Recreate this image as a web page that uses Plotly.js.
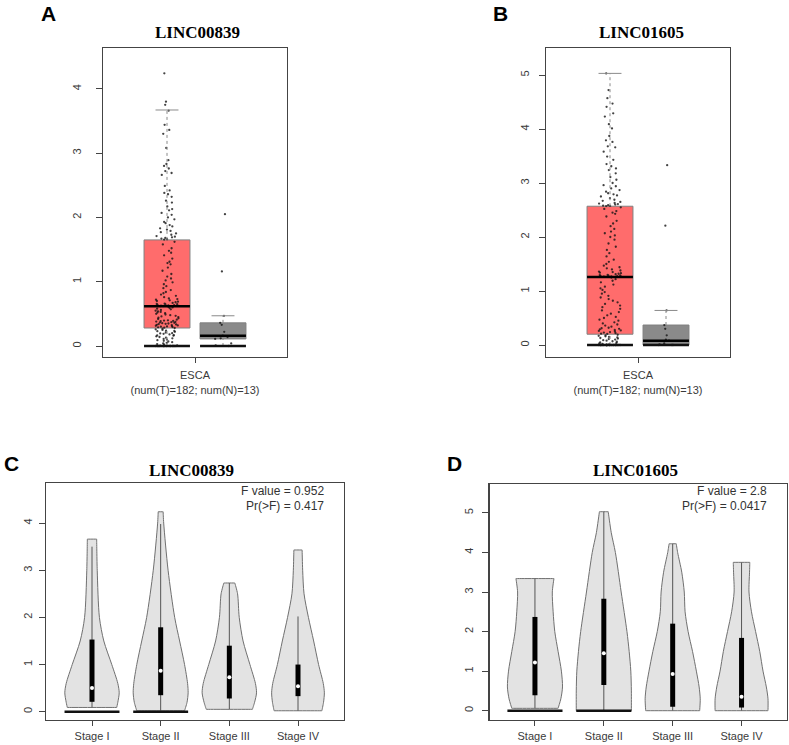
<!DOCTYPE html>
<html><head><meta charset="utf-8">
<script src="https://cdn.plot.ly/plotly-3.0.1.min.js"></script>
<style>html,body{margin:0;padding:0;background:#fff}#chart{width:789px;height:745px}</style>
</head><body><div id="chart"></div>
<script>
// ================= DATA =================
const geneA = 'LINC00839';
const geneB = 'LINC01605';
const cancerTick = 'ESCA<br>(num(T)=182; num(N)=13)';
const groupPos = [1, 2]; // tumor, normal

// Panel A (LINC00839) box statistics [tumor, normal]
const aQ1 = [0.28, 0.11];
const aMedian = [0.62, 0.16];
const aQ3 = [1.65, 0.36];
const aLowerFence = [0, 0];
const aUpperFence = [3.67, 0.47];
const aTumorPoints = [4.24,3.80,3.75,3.66,3.44,3.36,3.30,3.08,2.89,2.83,2.80,2.76,2.72,2.69,2.66,2.49,2.42,2.38,2.36,2.32,
  2.26,2.23,2.17,2.13,2.11,2.07,2.04,2.00,1.97,1.93,1.91,1.88,1.86,1.83,1.81,1.79,1.77,1.75,1.73,1.71,1.70,1.69,1.68,1.67,1.66,1.655,
  1.62,1.58,1.52,1.48,1.45,1.41,1.36,1.31,1.29,1.27,1.22,1.17,1.12,1.08,1.05,1.02,0.99,0.96,0.93,0.90,0.87,0.84,0.82,0.80,
  0.78,0.76,0.74,0.73,0.72,0.71,0.70,0.69,0.68,0.67,0.66,0.655,0.65,0.645,0.64,0.635,0.63,0.628,0.625,0.622,0.62,
  0.61,0.60,0.59,0.58,0.57,0.56,0.55,0.54,0.53,0.52,0.51,0.50,0.49,0.48,0.47,0.46,0.45,0.44,0.43,0.42,0.41,0.40,
  0.395,0.39,0.385,0.38,0.375,0.37,0.365,0.36,0.355,0.35,0.345,0.34,0.335,0.33,0.325,0.32,0.315,0.31,0.305,0.30,0.295,0.29,0.285,
  0.28,0.27,0.26,0.25,0.24,0.235,0.23,0.22,0.21,0.20,0.195,0.19,0.18,0.17,0.165,0.16,0.15,0.14,0.13,0.12,0.11,0.10,0.09,0.08,0.07,
  0.06,0.05,0.04,0.03,0.02,0.01,0.005,0,0,0,0,0,0,0,0,0,0,0,0,0,0];
const aNormalPoints = [2.05,1.16,0.47,0.36,0.33,0.22,0.16,0.14,0.12,0.11,0.04,0.01,0];

// Panel B (LINC01605) box statistics [tumor, normal]
const bQ1 = [0.20, 0.0];
const bMedian = [1.26, 0.08];
const bQ3 = [2.57, 0.37];
const bLowerFence = [0, 0];
const bUpperFence = [5.03, 0.64];
const bTumorPoints = [5.03,4.72,4.57,4.47,4.41,4.29,4.23,4.09,4.01,3.87,3.79,3.76,3.68,3.66,3.58,3.49,3.43,3.35,3.31,3.27,
  3.24,3.18,3.11,3.06,3.00,2.96,2.94,2.90,2.87,2.84,2.81,2.79,2.77,2.75,2.72,2.69,2.67,2.65,2.63,2.62,2.61,2.60,2.59,2.58,2.575,2.572,
  2.55,2.52,2.48,2.45,2.43,2.38,2.30,2.25,2.20,2.15,2.10,2.07,2.03,2.00,1.95,1.88,1.82,1.76,1.70,1.64,1.58,1.54,1.50,1.47,
  1.44,1.42,1.40,1.38,1.36,1.35,1.34,1.33,1.32,1.31,1.30,1.295,1.29,1.285,1.28,1.275,1.27,1.268,1.265,1.262,1.26,
  1.25,1.22,1.19,1.16,1.12,1.08,1.05,1.02,0.98,0.95,0.91,0.88,0.85,0.82,0.79,0.76,0.73,0.70,0.67,0.64,0.61,0.58,0.55,0.52,0.50,
  0.47,0.45,0.42,0.40,0.38,0.36,0.34,0.32,0.31,0.30,0.29,0.28,0.27,0.26,0.25,0.24,0.23,0.22,0.21,0.205,
  0.19,0.18,0.17,0.16,0.15,0.14,0.13,0.12,0.11,0.10,0.09,0.08,0.07,0.06,0.05,0.04,0.03,0.02,0.01,0.005,
  0,0,0,0,0,0,0,0,0,0,0,0,0,0,0,0,0,0,0,0,0,0,0,0,0,0];
const bNormalPoints = [3.33,2.21,0.64,0.37,0.30,0.18,0.10,0.08,0.03,0.01,0,0,0];

// Panels C / D: pathological stage violins
const stageNames = ['Stage I', 'Stage II', 'Stage III', 'Stage IV'];
const cViolinY = [
  [0.09,0.2,0.4,0.6,1.0,1.5,2.0,3.0,3.66],
  [0.02,0.2,0.4,0.6,1.0,1.5,2.0,3.0,4.0,4.24],
  [0.05,0.2,0.4,0.6,1.0,1.5,2.0,2.5,2.73],
  [0.02,0.2,0.4,0.6,1.0,1.5,2.0,2.5,3.0,3.43]];
const cViolinDensity = [
  [0.90,0.94,0.99,0.94,0.72,0.43,0.27,0.19,0.17],
  [0.87,0.96,1.00,0.98,0.87,0.69,0.51,0.27,0.11,0.09],
  [0.84,0.92,0.99,0.95,0.75,0.50,0.36,0.30,0.20],
  [0.87,0.93,0.96,0.92,0.75,0.57,0.38,0.22,0.17,0.15]];
const cQ1 = [0.21, 0.35, 0.28, 0.33];
const cMedian = [0.50, 0.87, 0.73, 0.54];
const cQ3 = [1.53, 1.79, 1.40, 1.00];
const cWhiskerLow = [0.09, 0.02, 0.05, 0.02];
const cWhiskerHigh = [3.50, 3.98, 2.73, 2.02];
const cZeroBar = [0, 0, null, null];
const cStatText = ['F value = 0.952', 'Pr(>F) = 0.417'];

const dViolinY = [
  [0.06,0.3,0.6,1.0,1.5,2.0,2.5,3.0,3.34],
  [0.0,0.5,1.0,1.5,2.0,3.0,4.0,4.5,5.03],
  [0.0,0.3,0.6,1.0,1.5,2.0,2.5,3.0,3.5,4.0,4.22],
  [0.0,0.3,0.6,1.0,1.5,2.0,2.5,3.0,3.5,3.75]];
const dViolinDensity = [
  [0.84,0.94,1.00,0.96,0.84,0.72,0.66,0.63,0.69],
  [1.00,1.00,0.98,0.92,0.84,0.63,0.42,0.27,0.16],
  [0.98,1.00,0.96,0.86,0.72,0.56,0.45,0.42,0.33,0.18,0.13],
  [0.96,0.96,0.90,0.78,0.66,0.51,0.36,0.27,0.29,0.30]];
const dQ1 = [0.39, 0.65, 0.10, 0.08];
const dMedian = [1.22, 1.45, 0.93, 0.35];
const dQ3 = [2.37, 2.83, 2.20, 1.84];
const dWhiskerLow = [0.06, 0.0, 0.0, 0.0];
const dWhiskerHigh = [3.34, 5.03, 4.22, 3.75];
const dZeroBar = [0, 0, null, null];
const dStatText = ['F value = 2.8', 'Pr(>F) = 0.0417'];

// ================= BUILD =================
const BOXW = 0.82;
const boxFill = ['rgba(255,108,108,1)', 'rgba(138,138,138,1)'];
const traces = [];

function boxPanel(xa, ya, q1, med, q3, lf, uf, ptsList) {
  for (let i = 0; i < 2; i++) {
    const p = groupPos[i];
    traces.push({type:'box', orientation:'v', x:[p], q1:[q1[i]], median:[med[i]], q3:[q3[i]],
      lowerfence:[q1[i]], upperfence:[q3[i]], width:BOXW, whiskerwidth:0, boxpoints:false,
      fillcolor:boxFill[i], line:{color:'#808080', width:1}, xaxis:xa, yaxis:ya, hoverinfo:'skip', showlegend:false});
    traces.push({type:'scatter', mode:'lines', x:[p,p], y:[q3[i], uf[i]], line:{color:'#8a8a8a', width:1, dash:'dot'},
      xaxis:xa, yaxis:ya, hoverinfo:'skip', showlegend:false});
    traces.push({type:'scatter', mode:'lines', x:[p,p], y:[lf[i], q1[i]], line:{color:'#8a8a8a', width:1, dash:'dot'},
      xaxis:xa, yaxis:ya, hoverinfo:'skip', showlegend:false});
    traces.push({type:'scatter', mode:'lines', x:[p-BOXW/4, p+BOXW/4], y:[uf[i], uf[i]], line:{color:'#8a8a8a', width:1},
      xaxis:xa, yaxis:ya, hoverinfo:'skip', showlegend:false});
    traces.push({type:'scatter', mode:'lines', x:[p-BOXW/2, p+BOXW/2], y:[med[i], med[i]], line:{color:'#000', width:2.5},
      xaxis:xa, yaxis:ya, hoverinfo:'skip', showlegend:false});
    traces.push({type:'scatter', mode:'lines', x:[p-BOXW/2, p+BOXW/2], y:[lf[i], lf[i]], line:{color:'#111', width:2.5},
      xaxis:xa, yaxis:ya, hoverinfo:'skip', showlegend:false});
    traces.push({type:'box', y:ptsList[i], x0:p, width:BOXW, boxpoints:'all', jitter:0.5, pointpos:0,
      fillcolor:'rgba(0,0,0,0)', line:{color:'rgba(0,0,0,0)', width:0}, whiskerwidth:0,
      marker:{size:2.3, color:'rgba(20,20,20,0.8)'}, xaxis:xa, yaxis:ya, hoverinfo:'skip', showlegend:false});
  }
}
boxPanel('x','y', aQ1, aMedian, aQ3, aLowerFence, aUpperFence, [aTumorPoints, aNormalPoints]);
boxPanel('x2','y2', bQ1, bMedian, bQ3, bLowerFence, bUpperFence, [bTumorPoints, bNormalPoints]);

const VMAX = 0.40;
function violinPanel(xa, ya, vy, vd, q1, med, q3, wl, wh, zb) {
  for (let i = 0; i < 4; i++) {
    const p = i + 1;
    const n = vy[i].length;
    const xs = [], ys = [];
    // right side bottom -> top (corner points repeated so the spline keeps sharp corners)
    for (let k = 0; k < n; k++) {
      const rep = (k === 0 || k === n - 1) ? 2 : 1;
      for (let r = 0; r < rep; r++) { xs.push(p + vd[i][k]*VMAX); ys.push(vy[i][k]); }
    }
    // left side top -> bottom
    for (let k = n - 1; k >= 0; k--) {
      const rep = (k === 0 || k === n - 1) ? 2 : 1;
      for (let r = 0; r < rep; r++) { xs.push(p - vd[i][k]*VMAX); ys.push(vy[i][k]); }
    }
    xs.push(xs[0]); ys.push(ys[0]);
    traces.push({type:'scatter', mode:'lines', x:xs, y:ys, fill:'toself', fillcolor:'#e3e3e3',
      line:{color:'#707070', width:1, shape:'spline', smoothing:0.8, simplify:false},
      xaxis:xa, yaxis:ya, hoverinfo:'skip', showlegend:false});
    traces.push({type:'scatter', mode:'lines', x:[p,p], y:[wl[i], wh[i]], line:{color:'#555', width:1},
      xaxis:xa, yaxis:ya, hoverinfo:'skip', showlegend:false});
    traces.push({type:'scatter', mode:'lines', x:[p,p], y:[q1[i], q3[i]], line:{color:'#000', width:5},
      xaxis:xa, yaxis:ya, hoverinfo:'skip', showlegend:false});
    traces.push({type:'scatter', mode:'markers', x:[p], y:[med[i]], marker:{color:'#fff', size:4},
      xaxis:xa, yaxis:ya, hoverinfo:'skip', showlegend:false});
    if (zb[i] !== null) {
      traces.push({type:'scatter', mode:'lines', x:[p-VMAX, p+VMAX], y:[zb[i], zb[i]], line:{color:'#111', width:2.5},
        xaxis:xa, yaxis:ya, hoverinfo:'skip', showlegend:false});
    }
  }
}
violinPanel('x3','y3', cViolinY, cViolinDensity, cQ1, cMedian, cQ3, cWhiskerLow, cWhiskerHigh, cZeroBar);
violinPanel('x4','y4', dViolinY, dViolinDensity, dQ1, dMedian, dQ3, dWhiskerLow, dWhiskerHigh, dZeroBar);

const W = 789, H = 745;
const fx = v => v / W, fy = v => 1 - v / H;
const tickFont = {family:'Liberation Sans, Arial, sans-serif', size:11, color:'#3a3a3a'};
function xAxis(d, range, tv, tt, anchor, so) {
  return {domain:[fx(d[0]), fx(d[1])], range:range, tickvals:tv, ticktext:tt, ticks:'outside', ticklen:5,
    tickcolor:'#444', showline:true, mirror:true, linecolor:'#444', linewidth:1.2, showgrid:false, zeroline:false,
    tickfont:tickFont, anchor:anchor, fixedrange:true, tickangle:0, ticklabelstandoff:so};
}
function yAxis(d, range, tv, anchor, so) {
  return {domain:[fy(d[1]), fy(d[0])], range:range, tickvals:tv, ticks:'outside', ticklen:6, tickcolor:'#444',
    showline:true, mirror:true, linecolor:'#444', linewidth:1.2, showgrid:false, zeroline:false,
    tickfont:tickFont, tickangle:-90, anchor:anchor, fixedrange:true, ticklabelstandoff:so};
}

const titleFont = {family:'Liberation Serif, Times New Roman, serif', size:17, color:'#000'};
const letterFont = {family:'Liberation Sans, Arial, sans-serif', size:21, color:'#000'};
const statFont = {family:'Liberation Sans, Arial, sans-serif', size:12, color:'#333'};
function ann(text, x, y, font, xanchor) {
  return {text:text, x:fx(x), y:fy(y), xref:'paper', yref:'paper', showarrow:false, font:font,
    xanchor:xanchor || 'center', yanchor:'middle'};
}

const layout = {
  width:W, height:H, margin:{l:0, r:0, t:0, b:0}, paper_bgcolor:'#fff', plot_bgcolor:'#fff',
  showlegend:false, boxmode:'overlay', hovermode:false,
  xaxis: xAxis([103,287], [-0.143,3.143], [1.5], [cancerTick], 'y', 3),
  yaxis: yAxis([48,357], [-0.171,4.634], [0,1,2,3,4], 'x', 10),
  xaxis2: xAxis([546,730], [-0.143,3.143], [1.5], [cancerTick], 'y2', 3),
  yaxis2: yAxis([48,357], [-0.222,5.5], [0,1,2,3,4,5], 'x2', 5),
  xaxis3: xAxis([46,344], [0.33,4.67], [1,2,3,4], stageNames, 'y3', 1),
  yaxis3: yAxis([483,720], [-0.176,4.85], [0,1,2,3,4], 'x3', 2),
  xaxis4: xAxis([489.5,787], [0.34,4.66], [1,2,3,4], stageNames, 'y4', 1),
  yaxis4: yAxis([484,720], [-0.235,5.73], [0,1,2,3,4,5], 'x4', 5),
  annotations: [
    ann('<b>A</b>', 48.5, 14, letterFont), ann('<b>B</b>', 500.5, 14, letterFont),
    ann('<b>C</b>', 11, 463, letterFont), ann('<b>D</b>', 454.5, 463, letterFont),
    ann('<b>'+geneA+'</b>', 198, 33, titleFont), ann('<b>'+geneB+'</b>', 641, 33, titleFont),
    ann('<b>'+geneA+'</b>', 191, 470, titleFont), ann('<b>'+geneB+'</b>', 635, 470, titleFont),
    ann(cStatText[0], 326, 491, statFont, 'right'), ann(cStatText[1], 326, 505.5, statFont, 'right'),
    ann(dStatText[0], 769, 491, statFont, 'right'), ann(dStatText[1], 769, 505.5, statFont, 'right')
  ]
};
Plotly.newPlot('chart', traces, layout, {staticPlot:true, displayModeBar:false});
</script></body></html>
